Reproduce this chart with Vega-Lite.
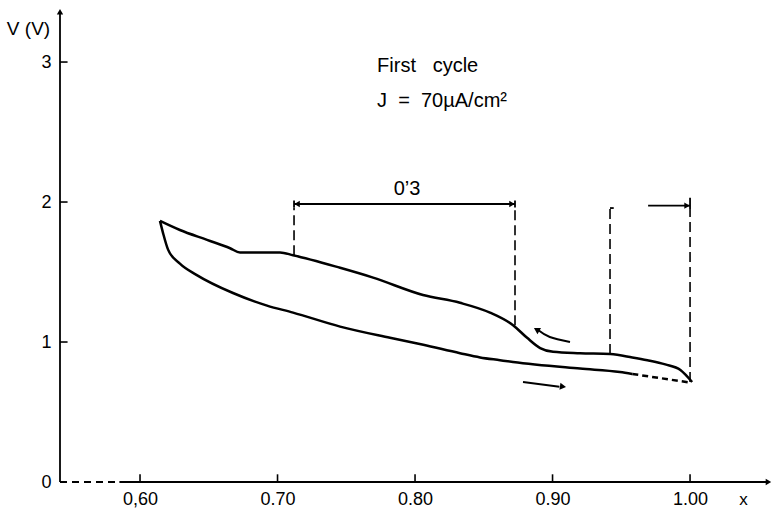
{
  "$schema": "https://vega.github.io/schema/vega-lite/v6.json",
  "width": 712,
  "height": 474,
  "autosize": {"type": "none"},
  "padding": {"left": 60, "top": 8, "right": 0, "bottom": 30},
  "background": "white",
  "config": {"view": {"stroke": null}, "font": "Liberation Sans"},
  "datasets": {
    "curve": [
      {"b": "charge", "x": 1.0015, "v": 0.714},
      {"b": "charge", "x": 0.993, "v": 0.80},
      {"b": "charge", "x": 0.982, "v": 0.84},
      {"b": "charge", "x": 0.969, "v": 0.87},
      {"b": "charge", "x": 0.958, "v": 0.89},
      {"b": "charge", "x": 0.942, "v": 0.914},
      {"b": "charge", "x": 0.92, "v": 0.92},
      {"b": "charge", "x": 0.9004, "v": 0.93},
      {"b": "charge", "x": 0.891, "v": 0.957},
      {"b": "charge", "x": 0.8815, "v": 1.03},
      {"b": "charge", "x": 0.8713, "v": 1.12},
      {"b": "charge", "x": 0.8545, "v": 1.21},
      {"b": "charge", "x": 0.8327, "v": 1.28},
      {"b": "charge", "x": 0.8058, "v": 1.336},
      {"b": "charge", "x": 0.7695, "v": 1.46},
      {"b": "charge", "x": 0.7455, "v": 1.53},
      {"b": "charge", "x": 0.7113, "v": 1.62},
      {"b": "charge", "x": 0.7018, "v": 1.64},
      {"b": "charge", "x": 0.6727, "v": 1.64},
      {"b": "charge", "x": 0.6655, "v": 1.67},
      {"b": "charge", "x": 0.6487, "v": 1.73},
      {"b": "charge", "x": 0.629, "v": 1.80},
      {"b": "charge", "x": 0.6145, "v": 1.865},
      {"b": "discharge", "x": 0.6145, "v": 1.865},
      {"b": "discharge", "x": 0.6167, "v": 1.78},
      {"b": "discharge", "x": 0.6204, "v": 1.66},
      {"b": "discharge", "x": 0.629, "v": 1.56},
      {"b": "discharge", "x": 0.641, "v": 1.48},
      {"b": "discharge", "x": 0.6676, "v": 1.35},
      {"b": "discharge", "x": 0.6924, "v": 1.26},
      {"b": "discharge", "x": 0.7113, "v": 1.21},
      {"b": "discharge", "x": 0.7455, "v": 1.11},
      {"b": "discharge", "x": 0.7818, "v": 1.03},
      {"b": "discharge", "x": 0.806, "v": 0.98},
      {"b": "discharge", "x": 0.8327, "v": 0.92},
      {"b": "discharge", "x": 0.8473, "v": 0.89},
      {"b": "discharge", "x": 0.8618, "v": 0.87},
      {"b": "discharge", "x": 0.8713, "v": 0.857},
      {"b": "discharge", "x": 0.92, "v": 0.81},
      {"b": "discharge", "x": 0.949, "v": 0.786},
      {"b": "discharge", "x": 0.958, "v": 0.772}
    ],
    "tail": [
      {"x": 0.958, "v": 0.772},
      {"x": 1.0, "v": 0.71}
    ],
    "solidRules": [
      {"x": 0.585, "x2": 1.056, "v": 0, "v2": 0},
      {"x": 0.5418, "x2": 0.5418, "v": 0, "v2": 3.36},
      {"x": 0.712, "x2": 0.8727, "v": 1.986, "v2": 1.986},
      {"x": 0.712, "x2": 0.712, "v": 1.96, "v2": 2.01},
      {"x": 0.8727, "x2": 0.8727, "v": 1.96, "v2": 2.01},
      {"x": 0.9695, "x2": 1.0, "v": 1.974, "v2": 1.974},
      {"x": 1.0, "x2": 1.0, "v": 1.95, "v2": 2.03},
      {"x": 0.9418, "x2": 0.9445, "v": 1.957, "v2": 1.957}
    ],
    "ticks": [
      {"x": 0.6, "x2": 0.6, "v": 0, "v2": 0.055},
      {"x": 0.7, "x2": 0.7, "v": 0, "v2": 0.055},
      {"x": 0.8, "x2": 0.8, "v": 0, "v2": 0.055},
      {"x": 0.9, "x2": 0.9, "v": 0, "v2": 0.055},
      {"x": 1.0, "x2": 1.0, "v": 0, "v2": 0.055},
      {"x": 0.5418, "x2": 0.5473, "v": 1, "v2": 1},
      {"x": 0.5418, "x2": 0.5473, "v": 2, "v2": 2},
      {"x": 0.5418, "x2": 0.5473, "v": 3, "v2": 3}
    ],
    "dashRules": [
      {"x": 0.712, "x2": 0.712, "v": 1.62, "v2": 1.96},
      {"x": 0.8727, "x2": 0.8727, "v": 1.12, "v2": 1.96},
      {"x": 0.9418, "x2": 0.9418, "v": 0.914, "v2": 1.957},
      {"x": 1.0, "x2": 1.0, "v": 0.715, "v2": 1.95}
    ],
    "axisDash": [
      {"x": 0.5418, "x2": 0.585, "v": 0, "v2": 0}
    ],
    "arrowUp": [
      {"i": 1, "x": 0.9127, "v": 1.0},
      {"i": 2, "x": 0.898, "v": 1.036},
      {"i": 3, "x": 0.8895, "v": 1.086}
    ],
    "arrowDown": [
      {"i": 1, "x": 0.8785, "v": 0.714},
      {"i": 2, "x": 0.905, "v": 0.681}
    ],
    "headLeft": [{"x": 0.7142, "v": 1.986}],
    "headRight": [{"x": 0.8705, "v": 1.986}, {"x": 0.9978, "v": 1.974}, {"x": 1.057, "v": 0}],
    "headUpLeft": [{"x": 0.8884, "v": 1.089}],
    "headLowRight": [{"x": 0.9076, "v": 0.681}],
    "headUp": [{"x": 0.5418, "v": 3.36}],
    "notes": [
      {"x": 0.7724, "v": 2.93, "t": "First\u00a0\u00a0\u00a0cycle"},
      {"x": 0.7724, "v": 2.68, "t": "J\u00a0\u00a0=\u00a0\u00a070µA/cm²"}
    ],
    "dim": [{"x": 0.7942, "v": 2.05, "t": "0’3"}]
  },
  "layer": [
    {
      "data": {"name": "curve"},
      "mark": {"type": "line", "color": "black", "strokeWidth": 2.5, "strokeJoin": "round", "interpolate": "monotone"},
      "encoding": {
        "x": {
          "field": "x", "type": "quantitative",
          "scale": {"domain": [0.5418, 1.0596], "nice": false, "zero": false},
          "axis": {
            "values": [0.6, 0.7, 0.8, 0.9, 1.0],
            "labelExpr": "datum.value < 0.65 ? '0,60' : format(datum.value, '.2f')",
            "domain": false, "grid": false,
            "tickSize": -7, "tickOpacity": 0,
            "labelPadding": 15, "labelFontSize": 18, "labelColor": "black",
            "title": "x", "titleFontWeight": "normal", "titleFontSize": 17, "titleColor": "black",
            "titleX": 683, "titleY": 17, "titleAlign": "center", "titleBaseline": "middle"
          }
        },
        "y": {
          "field": "v", "type": "quantitative",
          "scale": {"domain": [0, 3.386], "nice": false},
          "axis": {
            "values": [0, 1, 2, 3], "format": "d",
            "domain": false, "grid": false,
            "tickSize": -7, "tickOpacity": 0,
            "labelPadding": 16, "labelFontSize": 18, "labelColor": "black",
            "title": "V (V)", "titleAngle": 0, "titleFontWeight": "normal", "titleFontSize": 19, "titleColor": "black",
            "titleX": -32, "titleY": 20, "titleAlign": "center", "titleBaseline": "middle"
          }
        },
        "detail": {"field": "b", "type": "nominal"}
      }
    },
    {
      "data": {"name": "tail"},
      "mark": {"type": "line", "color": "black", "strokeWidth": 2.5, "strokeDash": [6, 4]},
      "encoding": {
        "x": {"field": "x", "type": "quantitative"},
        "y": {"field": "v", "type": "quantitative"}
      }
    },
    {
      "data": {"name": "solidRules"},
      "mark": {"type": "rule", "color": "black", "strokeWidth": 1.8},
      "encoding": {
        "x": {"field": "x", "type": "quantitative"},
        "x2": {"field": "x2"},
        "y": {"field": "v", "type": "quantitative"},
        "y2": {"field": "v2"}
      }
    },
    {
      "data": {"name": "ticks"},
      "mark": {"type": "rule", "color": "black", "strokeWidth": 1.6},
      "encoding": {
        "x": {"field": "x", "type": "quantitative"},
        "x2": {"field": "x2"},
        "y": {"field": "v", "type": "quantitative"},
        "y2": {"field": "v2"}
      }
    },
    {
      "data": {"name": "dashRules"},
      "mark": {"type": "rule", "color": "black", "strokeWidth": 1.6, "strokeDash": [10, 5]},
      "encoding": {
        "x": {"field": "x", "type": "quantitative"},
        "x2": {"field": "x2"},
        "y": {"field": "v", "type": "quantitative"},
        "y2": {"field": "v2"}
      }
    },
    {
      "data": {"name": "axisDash"},
      "mark": {"type": "rule", "color": "black", "strokeWidth": 1.8, "strokeDash": [7, 5]},
      "encoding": {
        "x": {"field": "x", "type": "quantitative"},
        "x2": {"field": "x2"},
        "y": {"field": "v", "type": "quantitative"},
        "y2": {"field": "v2"}
      }
    },
    {
      "data": {"name": "arrowUp"},
      "mark": {"type": "line", "color": "black", "strokeWidth": 2, "interpolate": "natural"},
      "encoding": {
        "x": {"field": "x", "type": "quantitative"},
        "y": {"field": "v", "type": "quantitative"},
        "order": {"field": "i", "type": "quantitative"}
      }
    },
    {
      "data": {"name": "arrowDown"},
      "mark": {"type": "line", "color": "black", "strokeWidth": 2},
      "encoding": {
        "x": {"field": "x", "type": "quantitative"},
        "y": {"field": "v", "type": "quantitative"},
        "order": {"field": "i", "type": "quantitative"}
      }
    },
    {
      "data": {"name": "headLeft"},
      "mark": {"type": "point", "shape": "triangle-left", "filled": true, "color": "black", "size": 40, "opacity": 1},
      "encoding": {"x": {"field": "x", "type": "quantitative"}, "y": {"field": "v", "type": "quantitative"}}
    },
    {
      "data": {"name": "headRight"},
      "mark": {"type": "point", "shape": "triangle-right", "filled": true, "color": "black", "size": 40, "opacity": 1},
      "encoding": {"x": {"field": "x", "type": "quantitative"}, "y": {"field": "v", "type": "quantitative"}}
    },
    {
      "data": {"name": "headUpLeft"},
      "mark": {"type": "point", "shape": "triangle-left", "filled": true, "color": "black", "size": 50, "angle": 30, "opacity": 1},
      "encoding": {"x": {"field": "x", "type": "quantitative"}, "y": {"field": "v", "type": "quantitative"}}
    },
    {
      "data": {"name": "headLowRight"},
      "mark": {"type": "point", "shape": "triangle-right", "filled": true, "color": "black", "size": 50, "angle": 8, "opacity": 1},
      "encoding": {"x": {"field": "x", "type": "quantitative"}, "y": {"field": "v", "type": "quantitative"}}
    },
    {
      "data": {"name": "headUp"},
      "mark": {"type": "point", "shape": "triangle-up", "filled": true, "color": "black", "size": 40, "opacity": 1},
      "encoding": {"x": {"field": "x", "type": "quantitative"}, "y": {"field": "v", "type": "quantitative"}}
    },
    {
      "data": {"name": "notes"},
      "mark": {"type": "text", "align": "left", "baseline": "alphabetic", "fontSize": 20, "color": "black"},
      "encoding": {
        "x": {"field": "x", "type": "quantitative"},
        "y": {"field": "v", "type": "quantitative"},
        "text": {"field": "t"}
      }
    },
    {
      "data": {"name": "dim"},
      "mark": {"type": "text", "align": "center", "baseline": "alphabetic", "fontSize": 20, "color": "black"},
      "encoding": {
        "x": {"field": "x", "type": "quantitative"},
        "y": {"field": "v", "type": "quantitative"},
        "text": {"field": "t"}
      }
    }
  ]
}
